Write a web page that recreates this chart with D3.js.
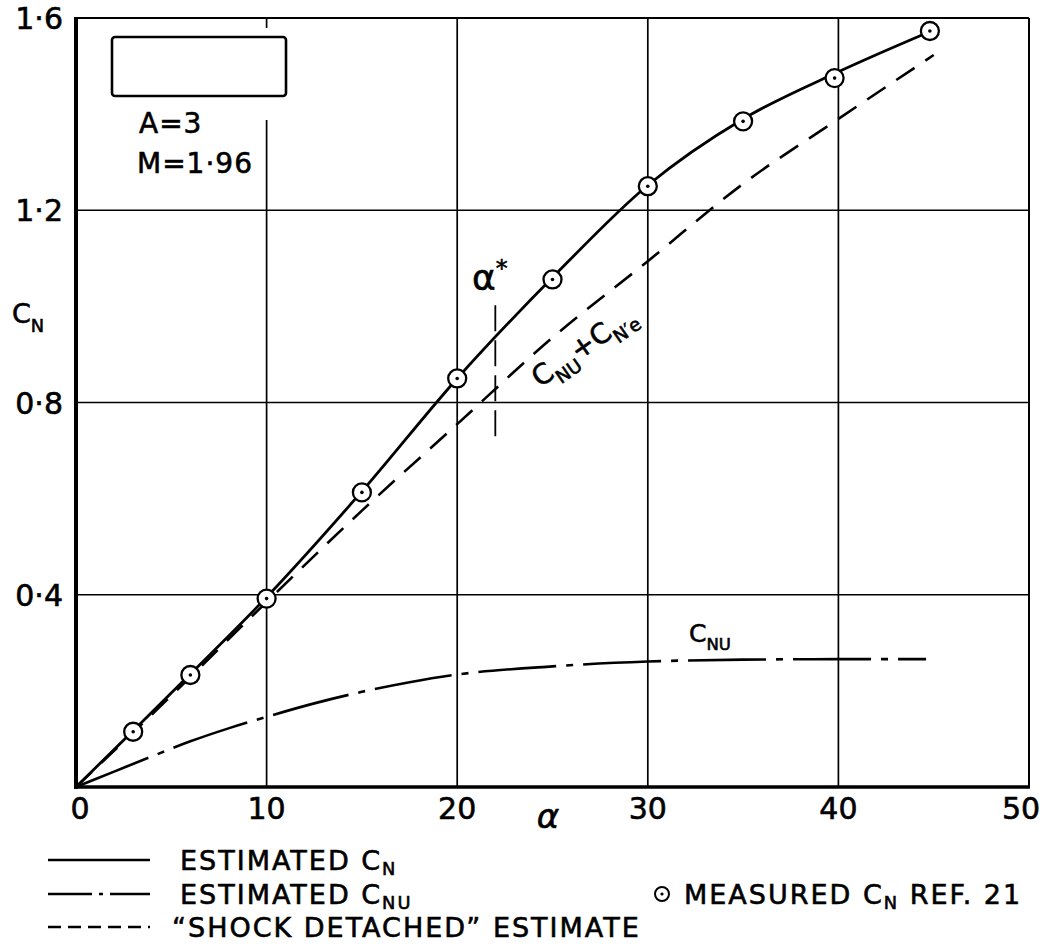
<!DOCTYPE html>
<html>
<head>
<meta charset="utf-8">
<script src="https://cdn.jsdelivr.net/npm/d3@7"></script>
<style>
body { margin: 0; background: #fff; }
svg { display: block; }
text { font-family: "DejaVu Sans", sans-serif; fill: #000; stroke: #000; stroke-width: 0.6px; }
</style>
</head>
<body>
<svg id="chart" width="1058" height="947"></svg>
<script>
// measured CN, ref. 21
const measuredAlpha = [3, 6, 10, 15, 20, 25, 30, 35, 39.8, 44.8];
const measuredCN = [0.115, 0.233, 0.392, 0.613, 0.85, 1.056, 1.25, 1.385, 1.475, 1.573];

// estimated CN (solid)
const estAlpha = [0, 3, 6, 10, 15, 20, 25, 30, 35, 40, 45];
const estCN = [0, 0.117, 0.235, 0.395, 0.615, 0.85, 1.06, 1.252, 1.39, 1.488, 1.575];

// estimated CNu (dash-dot)
const cnuAlpha = [0, 2, 4, 6, 8, 10, 12.5, 15, 17.5, 20, 25, 30, 35, 40, 44.6];
const cnuValue = [0, 0.032, 0.064, 0.095, 0.122, 0.146, 0.174, 0.198, 0.218, 0.234, 0.251, 0.261, 0.265, 0.266, 0.266];

// "shock detached" estimate (dashed)
const shockAlpha = [0, 5, 10, 15, 20, 25, 30, 35, 40, 45];
const shockCN = [0, 0.19, 0.385, 0.575, 0.755, 0.935, 1.094, 1.255, 1.39, 1.523];

const xTicks = [0, 10, 20, 30, 40, 50];
const yTicks = [0.4, 0.8, 1.2, 1.6];
const yTickLabels = ['0·4', '0·8', '1·2', '1·6'];
const alphaStar = 22;
const alphaStarRange = [0.73, 1.02];

var svg = d3.select('#chart'),
    margin = {top: 18, right: 29, bottom: 160, left: 76},
    width = +svg.attr('width') - margin.left - margin.right,
    height = +svg.attr('height') - margin.top - margin.bottom;

var x = d3.scaleLinear().domain([0, 50]).range([margin.left, margin.left + width]),
    y = d3.scaleLinear().domain([0, 1.6]).range([margin.top + height, margin.top]);

svg.append('rect').attr('width', 1058).attr('height', 947).attr('fill', '#fff');

// grid
svg.append('g').selectAll('line.v')
  .data(xTicks.slice(1, -1))
  .enter().append('line')
    .attr('x1', d => x(d)).attr('x2', d => x(d))
    .attr('y1', y(0)).attr('y2', y(1.6))
    .attr('stroke', '#000').attr('stroke-width', 1.7);
svg.append('g').selectAll('line.h')
  .data(yTicks.slice(0, -1))
  .enter().append('line')
    .attr('x1', x(0)).attr('x2', x(50))
    .attr('y1', d => y(d)).attr('y2', d => y(d))
    .attr('stroke', '#000').attr('stroke-width', 1.7);

// frame
svg.append('line').attr('x1', x(0)).attr('x2', x(50)).attr('y1', y(1.6)).attr('y2', y(1.6))
  .attr('stroke', '#000').attr('stroke-width', 2);
svg.append('line').attr('x1', x(50)).attr('x2', x(50)).attr('y1', y(1.6)).attr('y2', y(0))
  .attr('stroke', '#000').attr('stroke-width', 2);
svg.append('line').attr('x1', x(0)).attr('x2', x(0)).attr('y1', y(1.6) - 1).attr('y2', y(0) + 2)
  .attr('stroke', '#000').attr('stroke-width', 4);
svg.append('line').attr('x1', x(0) - 2).attr('x2', x(50) + 1).attr('y1', y(0)).attr('y2', y(0))
  .attr('stroke', '#000').attr('stroke-width', 3.5);

// key box top-left (white background breaks the grid line)
svg.append('rect').attr('x', 100).attr('y', y(1.6) + 10).attr('width', 200).attr('height', 92).attr('fill', '#fff');
svg.append('rect').attr('x', 112).attr('y', 37).attr('width', 174).attr('height', 59).attr('rx', 3)
  .attr('fill', '#fff').attr('stroke', '#000').attr('stroke-width', 2.6);
svg.append('text').attr('x', 139).attr('y', 133).style('font-size', '28px').style('letter-spacing', '1px').text('A=3');
svg.append('text').attr('x', 137).attr('y', 173).style('font-size', '28px').style('letter-spacing', '1px').text('M=1·96');

// tick labels
svg.append('g').selectAll('text')
  .data(yTicks)
  .enter().append('text')
    .attr('x', 63).attr('y', d => y(d) + 11)
    .attr('text-anchor', 'end')
    .style('font-size', '30px')
    .text((d, i) => yTickLabels[i]);
svg.append('g').selectAll('text')
  .data(xTicks)
  .enter().append('text')
    .attr('x', d => x(d) + (d === 0 ? 4 : d === 50 ? -8 : 0)).attr('y', 819)
    .attr('text-anchor', 'middle')
    .style('font-size', '30px')
    .text(d => d);

// subscript helper
function label(g, px, py, parts, size, drop) {
  drop = drop || 0.32;
  var t = g.append('text').attr('x', px).attr('y', py).style('font-size', size + 'px');
  var cur = 0;
  parts.forEach(p => {
    var target = p.sub ? size * drop : (p.sup ? -size * 0.38 : 0);
    t.append('tspan').attr('dy', target - cur)
      .style('font-size', (p.sub || p.sup ? size * 0.66 : size) + 'px')
      .text(p.t);
    cur = target;
  });
  return t;
}

// axis titles
label(svg, 12, 323, [{t: 'C'}, {t: 'N', sub: true}], 27);
svg.append('text').attr('x', 548).attr('y', 828).attr('text-anchor', 'middle')
  .style('font-size', '34px').style('font-style', 'italic').text('α');

// curves
var line = d3.line().x(d => x(d[0])).y(d => y(d[1])).curve(d3.curveMonotoneX);

svg.append('path')
  .datum(shockAlpha.map((a, i) => [a, shockCN[i]]))
  .attr('d', line)
  .attr('fill', 'none').attr('stroke', '#000').attr('stroke-width', 2.6)
  .attr('stroke-dasharray', '22,13');

svg.append('path')
  .datum(cnuAlpha.map((a, i) => [a, cnuValue[i]]))
  .attr('d', line)
  .attr('fill', 'none').attr('stroke', '#000').attr('stroke-width', 2.6)
  .attr('stroke-dasharray', '78,10,7,10');

svg.append('path')
  .datum(estAlpha.map((a, i) => [a, estCN[i]]))
  .attr('d', line)
  .attr('fill', 'none').attr('stroke', '#000').attr('stroke-width', 2.8);

// alpha* marker
svg.append('line')
  .attr('x1', x(alphaStar)).attr('x2', x(alphaStar))
  .attr('y1', y(alphaStarRange[0])).attr('y2', y(alphaStarRange[1]))
  .attr('stroke', '#000').attr('stroke-width', 1.8).attr('stroke-dasharray', '26,9');
label(svg, 472, 290, [{t: 'α'}, {t: '*', sup: true}], 36);

// measured points
var pts = svg.append('g').selectAll('g')
  .data(measuredAlpha.map((a, i) => [a, measuredCN[i]]))
  .enter().append('g')
    .attr('transform', d => 'translate(' + x(d[0]) + ',' + y(d[1]) + ')');
pts.append('circle').attr('r', 9).attr('fill', '#fff').attr('stroke', '#000').attr('stroke-width', 2.3);
pts.append('circle').attr('r', 1.8).attr('fill', '#000');

// curve annotations
label(svg, 0, 0, [{t: 'C'}, {t: 'NU', sub: true}, {t: '+C'}, {t: 'N′e', sub: true}], 28)
  .attr('transform', 'translate(540,388) rotate(-35)');
label(svg, 689, 642, [{t: 'C'}, {t: 'NU', sub: true}], 25);

// legend
var leg = svg.append('g').style('letter-spacing', '2px');
leg.append('line').attr('x1', 48).attr('x2', 150).attr('y1', 860).attr('y2', 860)
  .attr('stroke', '#000').attr('stroke-width', 2.4);
leg.append('line').attr('x1', 48).attr('x2', 150).attr('y1', 894).attr('y2', 894)
  .attr('stroke', '#000').attr('stroke-width', 2.4).attr('stroke-dasharray', '44,7,4,7');
leg.append('line').attr('x1', 48).attr('x2', 150).attr('y1', 927).attr('y2', 927)
  .attr('stroke', '#000').attr('stroke-width', 2.4).attr('stroke-dasharray', '13,7');
label(leg, 180, 870, [{t: 'ESTIMATED C'}, {t: 'N', sub: true}], 27, 0.18);
label(leg, 180, 904, [{t: 'ESTIMATED C'}, {t: 'NU', sub: true}], 27, 0.18);
label(leg, 172, 937, [{t: '“SHOCK DETACHED” ESTIMATE'}], 27);
leg.append('circle').attr('cx', 662).attr('cy', 894).attr('r', 7).attr('fill', 'none').attr('stroke', '#000').attr('stroke-width', 2);
leg.append('circle').attr('cx', 662).attr('cy', 894).attr('r', 1.6).attr('fill', '#000');
label(leg, 684, 904, [{t: 'MEASURED C'}, {t: 'N', sub: true}, {t: ' REF. 21'}], 27, 0.18);
</script>
</body>
</html>
